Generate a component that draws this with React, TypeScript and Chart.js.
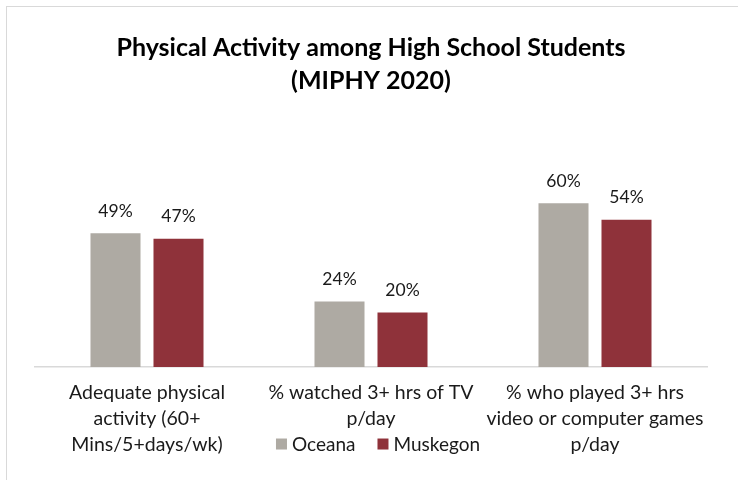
import { useEffect, useRef } from "react";
import { Chart, registerables } from "chart.js";

Chart.register(...registerables);

const categories: string[][] = [
  ["Adequate physical", "activity (60+", "Mins/5+days/wk)"],
  ["% watched 3+ hrs of TV", "p/day"],
  ["% who played 3+ hrs", "video or computer games", "p/day"],
];
const seriesNames = ["Oceana", "Muskegon"];
const oceanaValues = [49, 24, 60];
const muskegonValues = [47, 20, 54];
const titleLines = ["Physical Activity among High School Students", "(MIPHY 2020)"];

const FONT = "Lato, 'Open Sans', sans-serif";
const GRAY = "#aeaaa3";
const RED = "#8f323a";
const TEXT = "#1a1a1a";

const dataLabelPlugin = {
  id: "dataLabels",
  afterDatasetsDraw(chart: any) {
    const ctx = chart.ctx;
    ctx.save();
    ctx.font = `17.5px ${FONT}`;
    ctx.fillStyle = TEXT;
    ctx.textAlign = "center";
    ctx.textBaseline = "middle";
    chart.data.datasets.forEach((ds: any, di: number) => {
      const meta = chart.getDatasetMeta(di);
      meta.data.forEach((el: any, i: number) => {
        ctx.fillText(`${ds.data[i]}%`, el.x, el.y - 22);
      });
    });
    ctx.restore();
  },
};

// Legend drawn inside the x-axis label band, as in the reference
const bottomLegendPlugin = {
  id: "bottomLegend",
  afterDraw(chart: any) {
    const ctx = chart.ctx;
    ctx.save();
    ctx.font = `19px ${FONT}`;
    ctx.textBaseline = "middle";
    ctx.textAlign = "left";
    const box = 11;
    const gapBoxText = 5;
    const gapItems = 22;
    const items = chart.data.datasets.map((ds: any) => ({
      text: ds.label,
      color: ds.backgroundColor,
      w: ctx.measureText(ds.label).width,
    }));
    const total = items.reduce(
      (s: number, it: any, i: number) => s + box + gapBoxText + it.w + (i > 0 ? gapItems : 0),
      0
    );
    const area = chart.chartArea;
    const centerX = (area.left + area.right) / 2 + 7;
    const cy = area.bottom + 77;
    let x = centerX - total / 2;
    items.forEach((it: any) => {
      ctx.fillStyle = it.color;
      ctx.fillRect(x, cy - box / 2, box, box);
      x += box + gapBoxText;
      ctx.fillStyle = TEXT;
      ctx.fillText(it.text, x, cy + 1);
      x += it.w + gapItems;
    });
    ctx.restore();
  },
};

export default function App() {
  const ref = useRef<HTMLCanvasElement>(null);

  useEffect(() => {
    if (!ref.current) return;
    const chart = new Chart(ref.current, {
      type: "bar",
      data: {
        labels: categories,
        datasets: [
          {
            label: seriesNames[0],
            data: oceanaValues,
            backgroundColor: GRAY,
            categoryPercentage: 0.5625,
            barPercentage: 0.794,
          },
          {
            label: seriesNames[1],
            data: muskegonValues,
            backgroundColor: RED,
            categoryPercentage: 0.5625,
            barPercentage: 0.794,
          },
        ],
      },
      options: {
        responsive: false,
        animation: false,
        devicePixelRatio: 1,
        layout: { padding: { top: 14, left: 28, right: 31, bottom: 9 } },
        plugins: {
          title: {
            display: true,
            text: titleLines,
            color: "#000",
            font: { family: FONT, size: 25, weight: "bold", lineHeight: 1.32 },
            padding: { top: 10, bottom: 20 },
          },
          legend: { display: false },
          tooltip: { enabled: false },
        },
        scales: {
          x: {
            grid: { display: false, drawTicks: false },
            border: { display: true, color: "#d9d9d9", width: 1.5 },
            ticks: {
              color: TEXT,
              padding: 13,
              maxRotation: 0,
              autoSkip: false,
              font: { family: FONT, size: 19.5, lineHeight: 1.333 },
            },
          },
          y: {
            display: false,
            min: 0,
            max: 91.6,
          },
        },
      },
      plugins: [dataLabelPlugin, bottomLegendPlugin],
    });
    return () => chart.destroy();
  }, []);

  return (
    <div
      style={{
        position: "fixed",
        left: 6,
        top: 6,
        width: 800,
        height: 520,
        border: "1px solid #d9d9d9",
        background: "#fff",
      }}
    >
      <canvas ref={ref} width={731} height={473} style={{ display: "block" }} />
    </div>
  );
}
